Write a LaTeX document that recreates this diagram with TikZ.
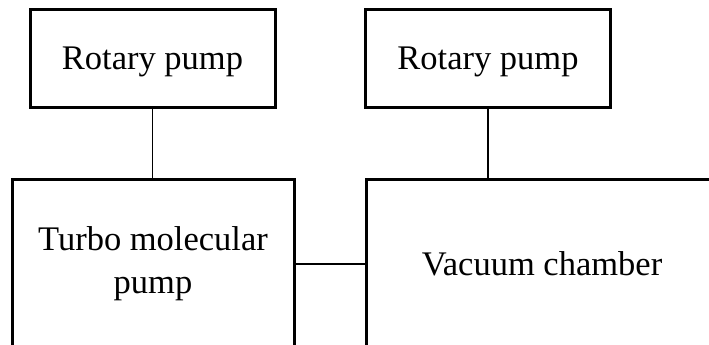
\documentclass[tikz,border=0pt]{standalone}
\usepackage{fontspec}
\setmainfont{Liberation Serif}
\usetikzlibrary{positioning}

\tikzset{
	unit/.style = {draw, line width = 3pt, align = center, inner sep = 0pt,
		font = \fontsize{34.5}{43}\selectfont},
	pipe/.style = {line width = 1.3pt}
}

\begin{document}
\begin{tikzpicture}[x = 1pt, y = -1pt]
			\useasboundingbox (0,0) rectangle (709,345);
			\clip (0,0) rectangle (709,345);

			\begin{scope}[minimum width = 245pt, minimum height = 97pt, text depth = 0pt]
				\node [unit] (rotaryL) at (152.5,58.5) {Rotary pump};
				\node [unit] (rotaryR) at (488,58.5) {Rotary pump};
			\end{scope}

			\node [unit, minimum width = 282pt, minimum height = 170pt] (turbo) at (153,264) {Turbo molecular\\pump};
			\node [unit, minimum width = 352pt, minimum height = 170pt] (chamber) at (542,264) {Vacuum chamber};

			\begin{scope}[pipe]
				\draw (rotaryL.south) -- (rotaryL.south |- turbo.north);
				\draw (rotaryR.south) -- (rotaryR.south |- chamber.north);
				\draw (turbo.east) -- (chamber.west);
			\end{scope}
		\end{tikzpicture}
\end{document}
